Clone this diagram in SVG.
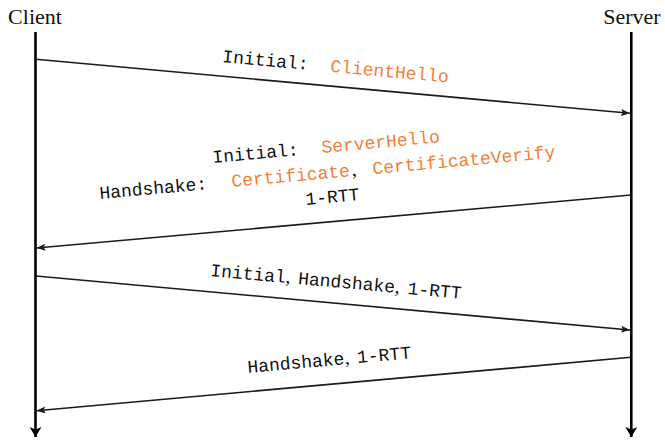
<svg xmlns="http://www.w3.org/2000/svg" width="665" height="441" viewBox="0 0 665 441">
  <style>
    .role { font-family: "Liberation Serif", "DejaVu Serif", serif; font-size: 22px; fill: #111; }
    .tt { font-family: "Liberation Mono", "DejaVu Sans Mono", monospace; font-size: 18px; fill: #111; }
    .msg { fill: #f47f3a; }
    .rm { font-family: "Liberation Serif", "DejaVu Serif", serif; font-size: 20px; fill: #111; }
    .life { stroke: #000; stroke-width: 2.6; fill: none; }
    .flow { stroke: #1a1a1a; stroke-width: 1.6; fill: none; }
  </style>
  <defs>
    <marker id="life-head" viewBox="0 0 10 12" refX="10" refY="6" markerWidth="10" markerHeight="12" markerUnits="userSpaceOnUse" orient="auto">
      <path d="M0,0 L10,6 L0,12 L2.5,6 Z" fill="#000"/>
    </marker>
    <marker id="flow-head" viewBox="0 0 9 7" refX="9" refY="3.5" markerWidth="9" markerHeight="7" markerUnits="userSpaceOnUse" orient="auto">
      <path d="M0,0 L9,3.5 L0,7 L1.8,3.5 Z" fill="#1a1a1a"/>
    </marker>
  </defs>

  <!-- endpoints and their lifelines -->
  <g id="client">
    <text class="role" x="35" y="24" text-anchor="middle">Client</text>
    <line class="life" x1="35.5" y1="32" x2="35.5" y2="437" marker-end="url(#life-head)"/>
  </g>
  <g id="server">
    <text class="role" x="632" y="24" text-anchor="middle">Server</text>
    <line class="life" x1="631.3" y1="32" x2="631.3" y2="437" marker-end="url(#life-head)"/>
  </g>

  <!-- message arrows -->
  <g id="connectors">
    <line class="flow" x1="36" y1="59.3" x2="630" y2="113.3" marker-end="url(#flow-head)"/>
    <line class="flow" x1="631" y1="195" x2="36.5" y2="248" marker-end="url(#flow-head)"/>
    <line class="flow" x1="36" y1="276" x2="630" y2="330" marker-end="url(#flow-head)"/>
    <line class="flow" x1="631" y1="357.3" x2="36.5" y2="410.7" marker-end="url(#flow-head)"/>
  </g>

  <!-- client hello -->
  <g id="label-1">
    <text class="tt" transform="translate(222,62) rotate(5.19)">Initial:</text>
    <text class="tt msg" transform="translate(330,71.8) rotate(5.19)">ClientHello</text>
  </g>

  <!-- server flight -->
  <g id="label-2">
    <text class="tt" transform="translate(213,163) rotate(-5.19)">Initial:</text>
    <text class="tt msg" transform="translate(322,153.1) rotate(-5.19)">ServerHello</text>
    <text class="tt" transform="translate(100,199) rotate(-5.19)">Handshake:</text>
    <text class="tt msg" transform="translate(232,187) rotate(-5.19)">Certificate</text>
    <text class="rm" transform="translate(352,176.1) rotate(-5.19)">,</text>
    <text class="tt msg" transform="translate(373,174.2) rotate(-5.19)">CertificateVerify</text>
    <text class="tt" transform="translate(306,205) rotate(-5.19)">1-RTT</text>
  </g>

  <!-- client finished -->
  <g id="label-3">
    <text class="tt" transform="translate(210,276) rotate(5.19)">Initial</text>
    <text class="rm" transform="translate(285.3,282.8) rotate(5.19)">,</text>
    <text class="tt" transform="translate(297.8,283.9) rotate(5.19)">Handshake</text>
    <text class="rm" transform="translate(394.6,292.7) rotate(5.19)">,</text>
    <text class="tt" transform="translate(407.2,293.9) rotate(5.19)">1-RTT</text>
  </g>

  <!-- server reply -->
  <g id="label-4">
    <text class="tt" transform="translate(248,373) rotate(-5.19)">Handshake</text>
    <text class="rm" transform="translate(345,364.2) rotate(-5.19)">,</text>
    <text class="tt" transform="translate(357.6,363.1) rotate(-5.19)">1-RTT</text>
  </g>
</svg>
